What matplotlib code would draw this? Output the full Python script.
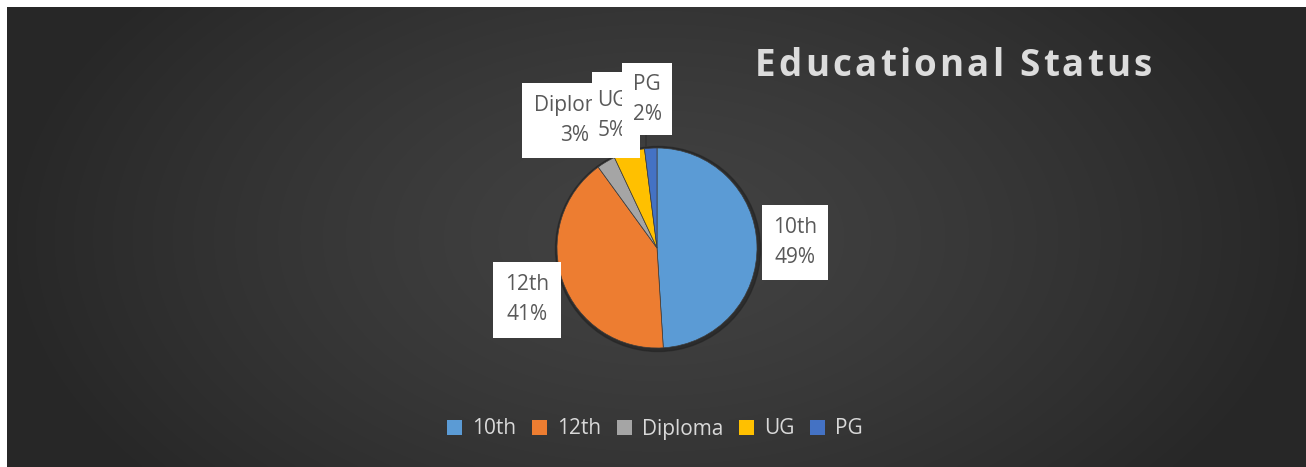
import numpy as np
import matplotlib.pyplot as plt
from matplotlib.patches import Rectangle

# data
categories = ['10th', '12th', 'Diploma', 'UG', 'PG']
shares = [49, 41, 3, 5, 2]
colors = ['#5B9BD5', '#ED7D31', '#A5A5A5', '#FFC000', '#4472C4']
title = 'Educational Status'

# label boxes (x0, y0, x1, y1 in pixels, y from top) and text centre x
label_box = [(762, 205, 828, 280), (493, 262, 561, 338), (522, 83, 600, 158),
             (592, 72, 640, 158), (622, 63, 672, 135)]
label_cx = [795, 527, 575, 612, 647]
# visible part of each label (the next box hides the rest)
visible_x1 = [828, 561, 592, 622, 672]

W, H = 1306, 467
fig = plt.figure(figsize=(W / 100, H / 100), dpi=100)
fig.patch.set_facecolor('white')

# background gradient, lighter in the middle
bg = fig.add_axes([7 / W, 0, (W - 7) / W, (H - 7) / H])
bg.set_axis_off()
yy, xx = np.mgrid[0:230, 0:650]
r = np.sqrt(((xx - 325) / 325) ** 2 + 0.35 * ((yy - 115) / 115) ** 2)
shade = 0.26 - 0.105 * np.clip(r, 0, 1) ** 1.3
img = np.dstack([shade, shade, shade])
bg.imshow(img, aspect='auto', extent=[0, 1, 0, 1], interpolation='bilinear')
bg.set_xlim(0, 1)
bg.set_ylim(0, 1)

# main axes in pixel units (y up)
ax = fig.add_axes([0, 0, 1, 1])
ax.patch.set_alpha(0)

cx, cy, rad = 657, H - 248, 100
# soft shadow
ax.add_patch(plt.Circle((cx + 1, cy - 1), rad + 2.5, color='#222222', alpha=0.6, zorder=1))
wedges, _ = ax.pie(shares, colors=colors, startangle=90, counterclock=False,
                   center=(cx, cy), radius=rad, frame=True,
                   wedgeprops=dict(edgecolor='#3c3c3c', linewidth=0.5))
for w in wedges:
    w.set_zorder(2)
ax.set_xlim(0, W)
ax.set_ylim(0, H)
ax.set_axis_off()

# leader line for PG
ax.plot([646, 646], [H - 135, H - 146], color='#333333', lw=1.2, zorder=3)

for i, (name, val) in enumerate(zip(categories, shares)):
    x0, y0, x1, y1 = label_box[i]
    ax.add_patch(Rectangle((x0, H - y1), x1 - x0, y1 - y0, fc='white', ec='none',
                           zorder=5 + 2 * i))
    clip = Rectangle((x0, H - y1), visible_x1[i] - x0, y1 - y0, transform=ax.transData)
    ym = (y0 + y1) / 2
    for k, line in enumerate([name, f'{val}%']):
        t = ax.text(label_cx[i], H - (ym - 15 + 30 * k), line, ha='center', va='center',
                    fontsize=15, color='#595959', family='Open Sans', zorder=6 + 2 * i)
        t.set_clip_path(clip)
        t.set_clip_on(True)

# title with widened letter spacing
fig.canvas.draw()
renderer = fig.canvas.get_renderer()
tprops = dict(fontsize=26.5, fontweight='bold', color='#dcdcdc', family='Open Sans')


def text_width(s):
    p = ax.text(0, 0, s, **tprops)
    w = p.get_window_extent(renderer).width
    p.remove()
    return w


bar_w = text_width('|')
full_w = text_width(title)
x_left, x_right, ty = 755, 1152, H - 66
extra = (x_right - x_left - full_w) / (len(title) - 1)
for i, ch in enumerate(title):
    if ch == ' ':
        continue
    pw = text_width(title[:i] + '|') - bar_w if i > 0 else 0
    ax.text(x_left + pw + i * extra, ty, ch, ha='left', va='center', **tprops)

# legend
handles = [Rectangle((0, 0), 1, 1, fc=c, ec='none') for c in colors]
leg = fig.legend(handles, categories, loc='center', bbox_to_anchor=(655 / W, 1 - 429 / H),
                 ncol=5, frameon=False, handlelength=0.7, handleheight=0.7,
                 handletextpad=0.5, columnspacing=0.75,
                 prop={'family': 'Open Sans', 'size': 15})
for t in leg.get_texts():
    t.set_color('#d9d9d9')

fig.savefig('out.png', dpi=100)
